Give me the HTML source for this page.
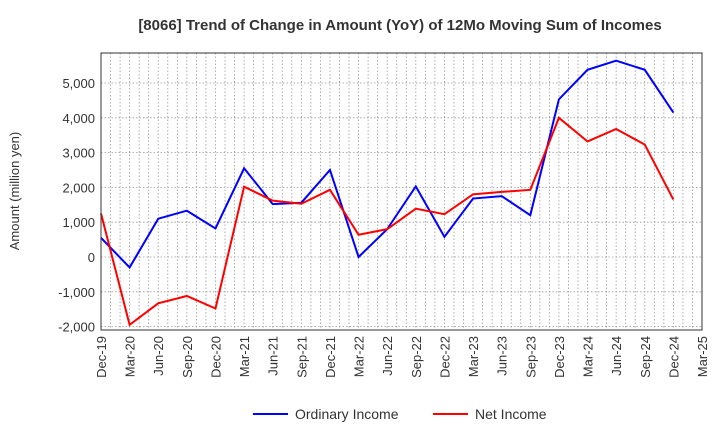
<!DOCTYPE html>
<html><head><meta charset="utf-8"><style>
body{margin:0;background:#fff;font-family:"Liberation Sans",sans-serif;}
</style></head><body>
<svg width="720" height="440" xmlns="http://www.w3.org/2000/svg">
<text x="400" y="30" text-anchor="middle" font-size="15" font-weight="bold" fill="#333">[8066]  Trend of Change in Amount (YoY) of 12Mo Moving Sum of Incomes</text>
<g id="grid"></g>
<g id="yax"></g>
<g id="xax"></g>
<g id="series"></g>
<rect x="101" y="53" width="601" height="277" fill="none" stroke="#333" stroke-width="1"/>
<text transform="translate(19,191) rotate(-90)" text-anchor="middle" font-size="13" fill="#333">Amount (million yen)</text>
<g><line x1="253" y1="414" x2="288" y2="414" stroke="#0000ff" stroke-width="2"/><text x="295" y="419" font-size="14" fill="#333">Ordinary Income</text></g>
<g><line x1="433" y1="414" x2="468" y2="414" stroke="#ff0000" stroke-width="2"/><text x="475" y="419" font-size="14" fill="#333">Net Income</text></g>
</svg>
<script>
const categories=["Dec-19","Mar-20","Jun-20","Sep-20","Dec-20","Mar-21","Jun-21","Sep-21","Dec-21","Mar-22","Jun-22","Sep-22","Dec-22","Mar-23","Jun-23","Sep-23","Dec-23","Mar-24","Jun-24","Sep-24","Dec-24","Mar-25"];
const ordinaryIncome=[550,-300,1100,1330,820,2550,1520,1560,2500,0,800,2030,580,1680,1750,1200,4530,5380,5640,5380,4150];
const netIncome=[1250,-1950,-1330,-1120,-1480,2020,1620,1530,1930,640,800,1390,1230,1800,1870,1930,4000,3320,3680,3230,1650];
const yTicks=[-2000,-1000,0,1000,2000,3000,4000,5000];
const yTickLabels=["-2,000","-1,000","0","1,000","2,000","3,000","4,000","5,000"];
const NS="http://www.w3.org/2000/svg";
const L=101,R=702,T=53,B=330;
const x=i=>L+i*(R-L)/21;
const y=v=>257-v*0.0348;
function mk(t,a,p){const e=document.createElementNS(NS,t);for(const k in a)e.setAttribute(k,a[k]);p.appendChild(e);return e;}
const grid=document.getElementById('grid'),yax=document.getElementById('yax'),xax=document.getElementById('xax'),ser=document.getElementById('series');
for(let m=1;m<63;m++){const gx=L+m*(R-L)/63;
const l=mk('line',{x1:gx,x2:gx,y1:T,y2:B,stroke:'#999','stroke-dasharray':'1.5,2','stroke-width':0.8},grid);

}
yTicks.forEach((v,i)=>{
const l=mk('line',{x1:L,x2:R,y1:y(v),y2:y(v),stroke:'#999','stroke-dasharray':'1.5,2','stroke-width':0.8},grid);


const t=mk('text',{x:L-6,y:y(v)+5,'text-anchor':'end','font-size':13,fill:'#333'},yax);t.textContent=yTickLabels[i];

});
categories.forEach((c,i)=>{
const t=mk('text',{transform:`translate(${x(i)+5},${B+6}) rotate(-90)`,'text-anchor':'end','font-size':13,fill:'#333'},xax);t.textContent=c;

});
function line(d,col,name){const p=mk('polyline',{points:d.map((v,i)=>x(i)+','+y(v)).join(' '),fill:'none',stroke:col,'stroke-width':2},ser);

}
line(ordinaryIncome,'#0000ff','ordinary-income-line');
line(netIncome,'#ff0000','net-income-line');
</script>
</body></html>
